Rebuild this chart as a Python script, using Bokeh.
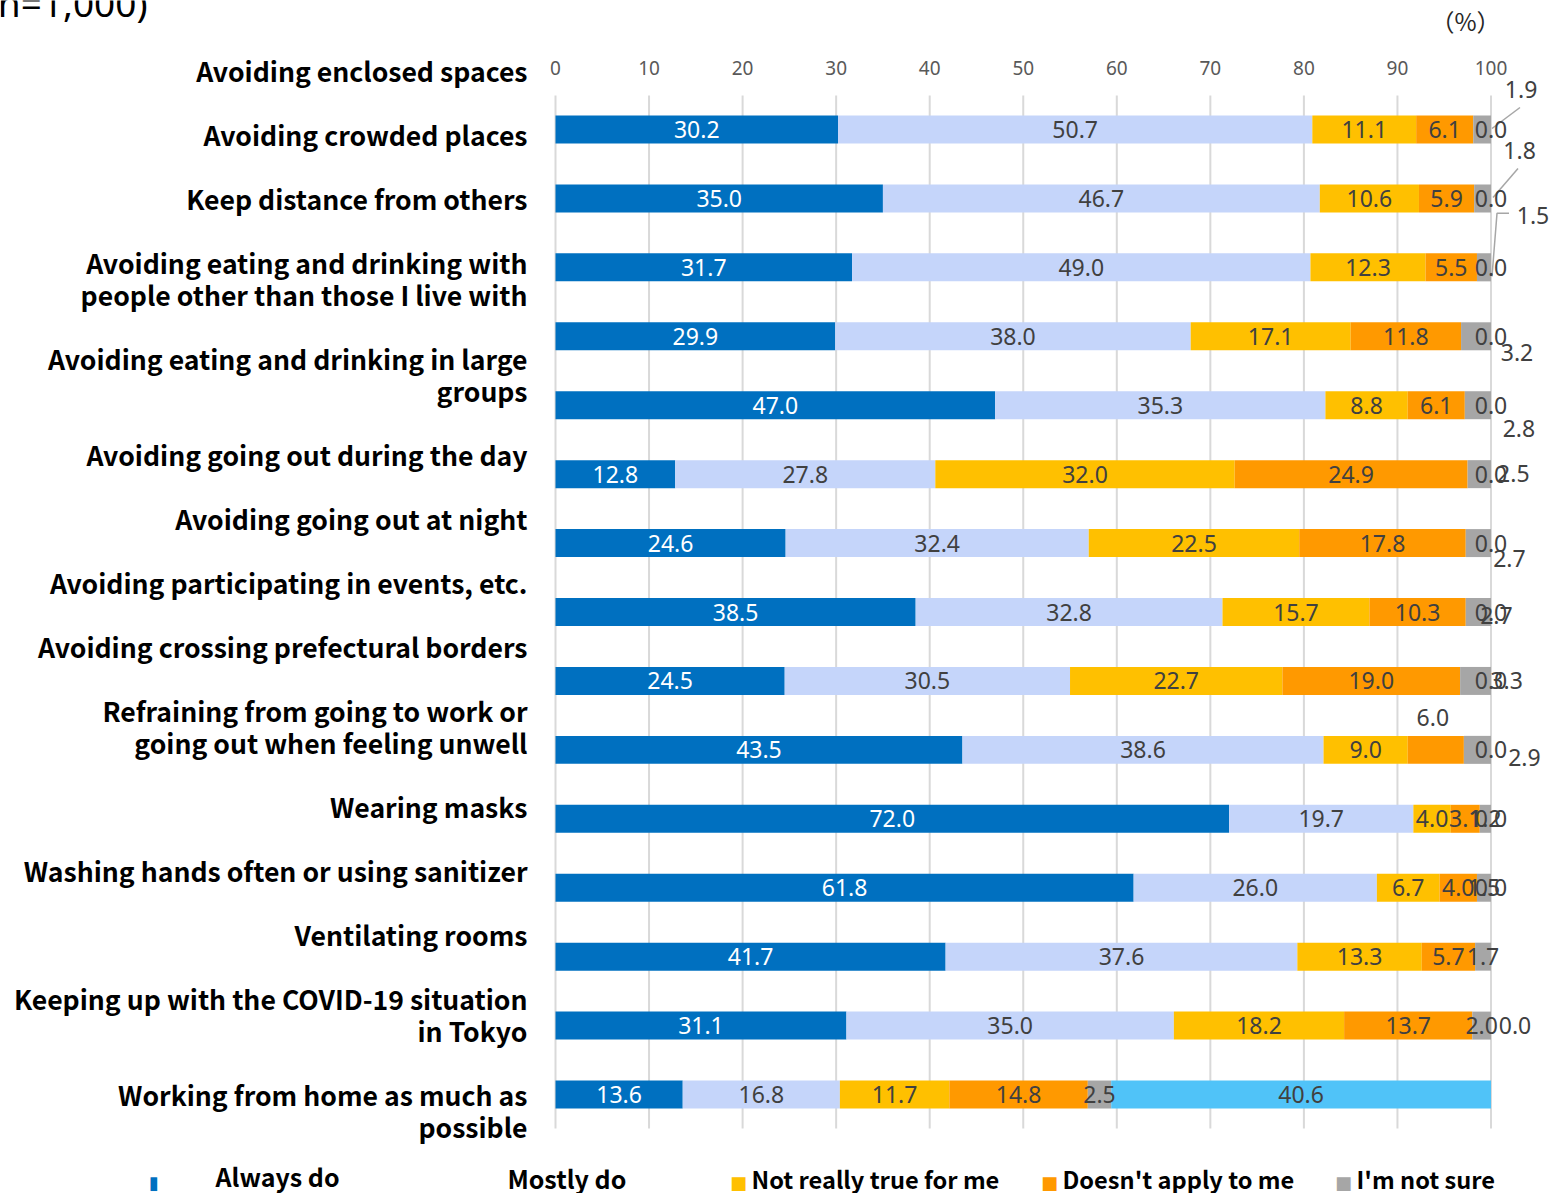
from bokeh.plotting import figure
from bokeh.models import ColumnDataSource, LabelSet, Range1d
from bokeh.core.properties import value
from bokeh.embed import file_html
from bokeh.resources import INLINE

# ---------------- data ----------------
categories = [
    ["Avoiding enclosed spaces"],
    ["Avoiding crowded places"],
    ["Keep distance from others"],
    ["Avoiding eating and drinking with", "people other than those I live with"],
    ["Avoiding eating and drinking in large", "groups"],
    ["Avoiding going out during the day"],
    ["Avoiding going out at night"],
    ["Avoiding participating in events, etc."],
    ["Avoiding crossing prefectural borders"],
    ["Refraining from going to work or", "going out when feeling unwell"],
    ["Wearing masks"],
    ["Washing hands often or using sanitizer"],
    ["Ventilating rooms"],
    ["Keeping up with the COVID-19 situation", "in Tokyo"],
    ["Working from home as much as", "possible"],
]
series_names = ["Always do", "Mostly do", "Not really true for me",
                "Doesn't apply to me", "I'm not sure", "Other"]
always_do = [30.2, 35.0, 31.7, 29.9, 47.0, 12.8, 24.6, 38.5, 24.5, 43.5, 72.0, 61.8, 41.7, 31.1, 13.6]
mostly_do = [50.7, 46.7, 49.0, 38.0, 35.3, 27.8, 32.4, 32.8, 30.5, 38.6, 19.7, 26.0, 37.6, 35.0, 16.8]
not_really = [11.1, 10.6, 12.3, 17.1, 8.8, 32.0, 22.5, 15.7, 22.7, 9.0, 4.0, 6.7, 13.3, 18.2, 11.7]
doesnt_apply = [6.1, 5.9, 5.5, 11.8, 6.1, 24.9, 17.8, 10.3, 19.0, 6.0, 3.1, 4.0, 5.7, 13.7, 14.8]
not_sure = [1.9, 1.8, 1.5, 3.2, 2.8, 2.5, 2.7, 2.7, 3.3, 2.9, 1.2, 1.5, 1.7, 2.0, 2.5]
other = [0.0, 0.0, 0.0, 0.0, 0.0, 0.0, 0.0, 0.0, 0.0, 0.0, 0.0, 0.0, 0.0, 0.0, 40.6]
x_ticks = [0, 10, 20, 30, 40, 50, 60, 70, 80, 90, 100]
sample_note = "(n=1,000)"
unit_note = "（%）"

# ---------------- style / layout ----------------
colors = ["#0070C0", "#C5D5FA", "#FFC000", "#FF9900", "#A6A6A6", "#50C3F8"]
label_colors = ["#FFFFFF", "#404040", "#404040", "#404040", "#404040", "#404040"]
PX0, PXU = 555.0, 9.355        # canvas x of value 0, px per unit
ROW0, ROWH = 129.0, 68.93      # canvas y of first bar, px per row
W, H = 1550, 1193
GRID_TOP, GRID_BOTTOM = 95, 1128


def fx(px):
    return (px - PX0) / PXU


def fy(py):
    return (py - ROW0) / ROWH


# label offsets (dx right, dy down, in px) for crowded labels: (row, series)
label_shift = {(0, 4): (39, -40), (1, 4): (37, -48), (2, 4): (49, -52),
               (3, 4): (41, 16), (4, 4): (41, 23), (5, 4): (34, -1),
               (6, 4): (31, 15), (7, 4): (18, 3), (8, 4): (31, 0),
               (9, 4): (47, 8), (9, 3): (-3, -32), (13, 5): (24, 0)}
hidden_labels = {(12, 5)}
# leader lines, points as (dx, dy) px from the bar end
leaders = {0: [(29, -22), (1, -1)], 1: [(27, -30), (2, -1)],
           2: [(18, -54), (6, -54), (1, 9)]}

p = figure(width=W, height=H, title=None,
           x_range=Range1d(fx(0), fx(W)), y_range=Range1d(fy(H), fy(0)),
           output_backend="svg", toolbar_location=None,
           x_axis_location=None, y_axis_location=None,
           min_border_left=0, min_border_right=0,
           min_border_top=0, min_border_bottom=0)
p.outline_line_color = None
p.grid.grid_line_color = None

# grid lines and top tick labels, placed on the x scale
p.segment(x0=x_ticks, x1=x_ticks, y0=[fy(GRID_TOP)] * len(x_ticks),
          y1=[fy(GRID_BOTTOM)] * len(x_ticks), line_color="#D9D9D9", line_width=2)
p.text(x=x_ticks, y=[fy(67)] * len(x_ticks), text=[str(t) for t in x_ticks],
       text_align="center", text_baseline="middle", text_font=value("Noto Sans"),
       text_font_size="19px", text_color="#595959")

series_values = [always_do, mostly_do, not_really, doesnt_apply, not_sure, other]
keys = ["s%d" % i for i in range(len(series_values))]
data = {k: v for k, v in zip(keys, series_values)}
data["row"] = list(range(len(always_do)))
src = ColumnDataSource(data)
p.hbar_stack(keys, y="row", height=0.406, fill_color=colors, line_color=None, source=src)

# data labels
lx, ly, lt, lc, ldx, ldy = [], [], [], [], [], []
for r in range(len(always_do)):
    cum = 0.0
    for s, vals in enumerate(series_values):
        v = vals[r]
        center = cum + v / 2.0
        cum += v
        if (r, s) in hidden_labels:
            continue
        dx, dy = label_shift.get((r, s), (0, 0))
        lx.append(center)
        ly.append(r)
        lt.append("%.1f" % v)
        lc.append(label_colors[s])
        ldx.append(dx)
        ldy.append(-dy)
lab_src = ColumnDataSource(dict(x=lx, y=ly, text=lt, color=lc, dx=ldx, dy=ldy))
p.add_layout(LabelSet(x="x", y="y", text="text", source=lab_src, text_color="color",
                      x_offset="dx", y_offset="dy", text_align="center",
                      text_baseline="middle", text_font=value("Noto Sans"),
                      text_font_size="23px"))

# leader lines
xs, ys = [], []
for r, pts in leaders.items():
    end = sum(vals[r] for vals in series_values[:5])
    xs.append([end + dx / PXU for dx, dy in pts])
    ys.append([r + dy / ROWH for dx, dy in pts])
p.multi_line(xs, ys, line_color="#A6A6A6", line_width=1.5)

# category labels (left)
cx, cy, ct = [], [], []
top = 38
for lines in categories:
    block = 32 * (len(lines) + 1)
    for k, line in enumerate(lines):
        cx.append(fx(527))
        cy.append(fy(top + 32 * (k + 1)))
        ct.append(line)
    top += block
p.add_layout(LabelSet(x="x", y="y", text="text",
                      source=ColumnDataSource(dict(x=cx, y=cy, text=ct)),
                      text_align="right", text_baseline="middle",
                      text_font=value("Noto Sans CJK JP"), text_font_style="bold",
                      text_font_size="26.6px", text_color="#000000"))

# top texts
p.add_layout(LabelSet(x="x", y="y", text="text",
                      source=ColumnDataSource(dict(x=[fx(1500)], y=[fy(20)], text=[unit_note])),
                      text_align="right", text_baseline="middle",
                      text_font=value("Noto Sans CJK JP"), text_font_size="24px",
                      text_color="#262626"))
p.add_layout(LabelSet(x="x", y="y", text="text",
                      source=ColumnDataSource(dict(x=[fx(147)], y=[fy(16)], text=[sample_note])),
                      text_align="right", text_baseline="alphabetic",
                      text_font=value("Noto Sans"), text_font_size="37px",
                      text_color="#000000"))

# legend
leg_marks = ColumnDataSource(dict(
    x=[fx(153.5), fx(738), fx(1049), fx(1343)], y=[fy(1182)] * 4,
    text=["▮", "■", "■", "■"], color=[colors[0], colors[2], colors[3], colors[4]]))
p.add_layout(LabelSet(x="x", y="y", text="text", source=leg_marks, text_color="color",
                      text_align="center", text_baseline="middle",
                      text_font=value("DejaVu Sans"), text_font_size="18px"))
leg_x = [215, 507, 751, 1062, 1356]
leg_y = [1186, 1188, 1188, 1188, 1188]
leg_text = ColumnDataSource(dict(
    x=[fx(v) for v in leg_x], y=[fy(v) for v in leg_y],
    text=series_names[:5], size=["25px", "25px", "23.6px", "23.6px", "23.6px"]))
p.add_layout(LabelSet(x="x", y="y", text="text", source=leg_text, text_color="#000000",
                      text_align="left", text_baseline="alphabetic",
                      text_font=value("Noto Sans CJK JP"), text_font_style="bold",
                      text_font_size="size"))

open("out.html", "w").write(file_html(p, INLINE))
